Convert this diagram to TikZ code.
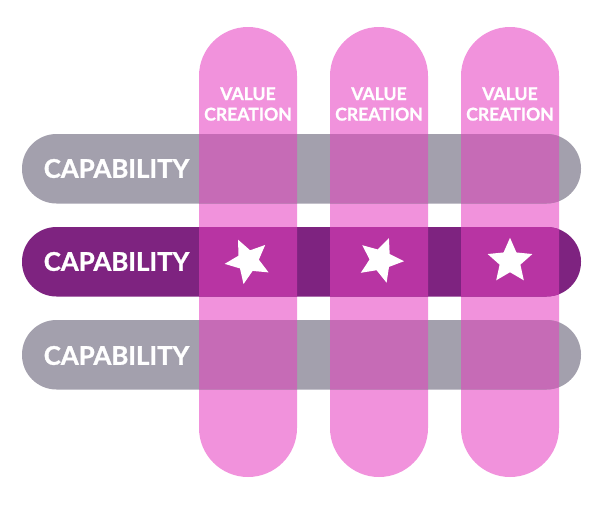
\documentclass[tikz,border=0pt]{standalone}
\usepackage{fontspec}
\setmainfont{Lato}[BoldFeatures={FakeBold=1.2}]
\usetikzlibrary{shapes.geometric}
\definecolor{pinkbar}{HTML}{F192DC}
\definecolor{greybar}{HTML}{A3A0AD}
\definecolor{purplebar}{HTML}{7E2380}
\definecolor{greypink}{HTML}{C66BB6}
\definecolor{purplepink}{HTML}{B834A3}
\tikzset{
  x=1pt,y=-1pt,
  column/.style={fill=pinkbar,rounded corners=49pt},
  caplabel/.style={text=white,font=\fontsize{25.8}{27}\selectfont\bfseries,inner sep=0pt,anchor=center},
  vallabel/.style={text=white,font=\fontsize{17.6}{20.5}\selectfont\bfseries,align=center,inner sep=0pt,anchor=center},
  starmark/.style={star,star points=5,star point ratio=2.15,fill=white,inner sep=0pt,minimum size=47pt}
}
\newcommand{\barshape}[1]{(22,#1) [rounded corners=34.5pt] rectangle (581,#1+69.5)}
\newcommand{\columnclip}{(199,0) rectangle (297,520) (330,0) rectangle (428,520) (461,0) rectangle (559,520)}
\begin{document}
\begin{tikzpicture}
\useasboundingbox (0,0) rectangle (607,520);
\fill[column] (199,27) rectangle (297,477);
\fill[column] (330,27) rectangle (428,477);
\fill[column] (461,27) rectangle (559,477);
\fill[greybar] \barshape{134};
\fill[purplebar] \barshape{227};
\fill[greybar] \barshape{320};
\begin{scope}
\clip \columnclip;
\fill[greypink] \barshape{134};
\fill[purplepink] \barshape{227};
\fill[greypink] \barshape{320};
\end{scope}
\node[caplabel] (c1) at (116.5,168.5) {CAPABILITY};
\node[caplabel] (c2) at (116.5,261.5) {CAPABILITY};
\node[caplabel] (c3) at (116.5,355.5) {CAPABILITY};
\node[vallabel] (v1) at (248,104) {VALUE\\CREATION};
\node[vallabel] (v2) at (379,104) {VALUE\\CREATION};
\node[vallabel] (v3) at (510,104) {VALUE\\CREATION};
\node[starmark,rotate=25] (s1) at (248,261) {};
\node[starmark,rotate=-21] (s2) at (380.5,260) {};
\node[starmark] (s3) at (510,261.3) {};
\end{tikzpicture}
\end{document}
